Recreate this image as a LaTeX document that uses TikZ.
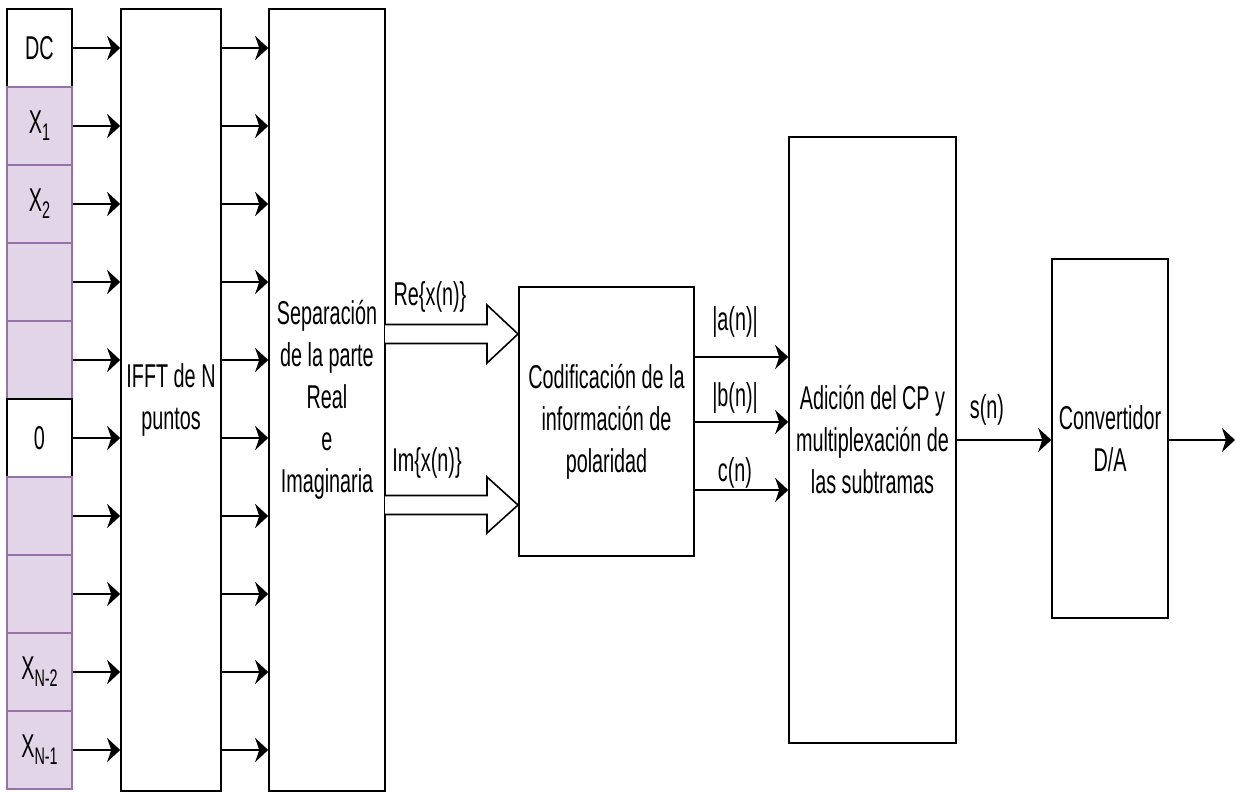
\documentclass[tikz,border=0pt]{standalone}
\usepackage{fontspec}
\setmainfont{Liberation Sans}[FakeStretch=0.6]
\usetikzlibrary{arrows.meta}
\newcommand\sbs[1]{\raisebox{-7pt}{\fontsize{24}{24}\selectfont #1}}
\tikzset{
  txt/.style={font=\fontsize{33}{42}\selectfont, align=center, inner sep=0pt},
  blk/.style={draw=black, line width=1.6pt, fill=white, txt},
  cellw/.style={draw=black, line width=1.4pt, fill=white, minimum width=65pt, minimum height=78pt, txt},
  cellp/.style={draw=cellborder, line width=1.4pt, fill=cellfill, minimum width=65pt, minimum height=78pt, txt},
  arr/.style={line width=2.2pt, -{Stealth[length=13pt, width=24pt, inset=4pt]}},
  fat/.style={draw=black, line width=1.6pt, fill=white, line join=miter},
  lbl/.style={txt}
}
\definecolor{cellfill}{HTML}{E1D5E7}
\definecolor{cellborder}{HTML}{9673A6}
\begin{document}
\begin{tikzpicture}[x=1pt, y=-1pt]
\fill[white] (0,0) rectangle (1236,792);
\useasboundingbox (0,0) rectangle (1236,792);
% cells
\node[cellw] (c0) at (39.5,48) {DC};
\node[cellp] (c1) at (39.5,126) {X\sbs{1}};
\node[cellp] (c2) at (39.5,204) {X\sbs{2}};
\node[cellp] (c3) at (39.5,282) {};
\node[cellp] (c4) at (39.5,360) {};
\node[cellw] (c5) at (39.5,438) {0};
\node[cellp] (c6) at (39.5,516) {};
\node[cellp] (c7) at (39.5,594) {};
\node[cellp] (c8) at (39.5,672) {X\sbs{N-2}};
\node[cellp] (c9) at (39.5,750) {X\sbs{N-1}};
% blocks
\node[blk, minimum width=100pt, minimum height=782pt] (ifft) at (171,400) {IFFT de N\\puntos};
\node[blk, minimum width=116pt, minimum height=782pt] (sep) at (327,400) {Separación\\de la parte\\Real\\e\\Imaginaria};
\node[blk, minimum width=175pt, minimum height=269pt] (cod) at (606.5,421.5) {Codificación de la\\información de\\polaridad};
\node[blk, minimum width=167pt, minimum height=606pt] (add) at (872.5,440) {Adición del CP y\\multiplexación de\\las subtramas};
\node[blk, minimum width=116pt, minimum height=359pt] (dac) at (1110,438.5) {Convertidor\\D/A};
% arrows from cells
\foreach \i in {0,...,9}{
  \draw[arr] (c\i.east) -- (c\i.east -| ifft.west);
  \draw[arr] (c\i.east -| ifft.east) -- (c\i.east -| sep.west);
}
% fat arrows
\draw[fat] (385,324.5) -- (487,324.5) -- (487,305) -- (518,334) -- (487,363) -- (487,343.5) -- (385,343.5);
\draw[fat] (385,495.5) -- (487,495.5) -- (487,477) -- (518,505) -- (487,533) -- (487,514.5) -- (385,514.5);
\node[lbl] (re) at (430,297) {Re\{x(n)\}};
\node[lbl] (im) at (427,463) {Im\{x(n)\}};
% codif outputs
\coordinate (ya) at (0,357);
\coordinate (yb) at (0,422);
\coordinate (yc) at (0,490);
\draw[arr] (cod.east |- ya) -- (add.west |- ya);
\draw[arr] (cod.east |- yb) -- (add.west |- yb);
\draw[arr] (cod.east |- yc) -- (add.west |- yc);
\node[lbl] (la) at (735,322) {|a(n)|};
\node[lbl] (lb) at (735,398) {|b(n)|};
\node[lbl] (lc) at (735,473) {c(n)};
% s(n)
\coordinate (ys) at (0,440);
\draw[arr] (add.east |- ys) -- (dac.west |- ys);
\node[lbl] (ls) at (987,410) {s(n)};
\coordinate (out) at (1235,440);
\draw[arr] (dac.east |- ys) -- (out);
\end{tikzpicture}
\end{document}
